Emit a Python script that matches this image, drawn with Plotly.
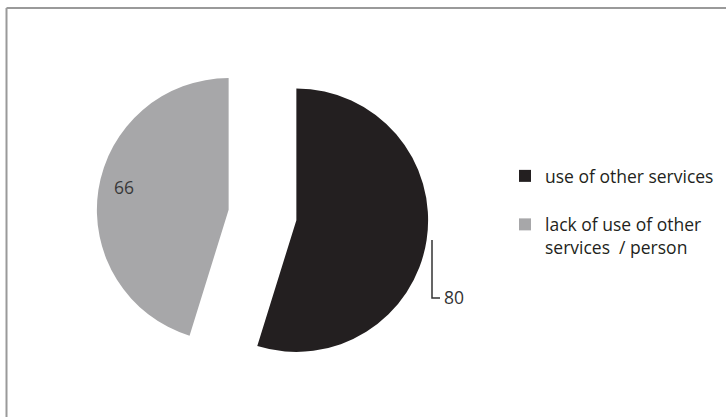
import plotly.graph_objects as go

labels = ["use of other services", "lack of use of other<br>services  / person"]
legend_labels = ["use of other services<br> ", "lack of use of other<br>services  / person"]
values = [80, 66]
colors = ["#231f20", "#a7a7a9"]
pulls = [0.26, 0.26]

W, H = 726, 417

fig = go.Figure()
fig.add_trace(go.Pie(
    labels=legend_labels,
    values=values,
    sort=False,
    direction="clockwise",
    rotation=0,
    pull=pulls,
    marker=dict(colors=colors, line=dict(width=0)),
    textinfo="none",
    domain=dict(x=[96.5 / W, 428.5 / W], y=[1 - 381 / H, 1 - 49 / H]),
    hoverinfo="label+value",
))

# slice value labels
fig.add_annotation(
    x=124 / W, y=1 - 187 / H, xref="paper", yref="paper",
    text=str(values[1]), showarrow=False, xanchor="center", yanchor="middle",
    font=dict(family="Open Sans", size=17.5, color="#3a3a3a"),
)
fig.add_annotation(
    x=442 / W, y=1 - 297 / H, xref="paper", yref="paper",
    text=str(values[0]), showarrow=False, xanchor="left", yanchor="middle",
    font=dict(family="Open Sans", size=17.5, color="#333333"),
)
# L-shaped leader line for the outside label
fig.add_shape(
    type="path", xref="paper", yref="paper",
    path=f"M {432/W} {1-240/H} L {432/W} {1-298/H} L {440/W} {1-298/H}",
    line=dict(color="#333333", width=1.5),
)

# frame (top and left edges)
fig.add_shape(type="line", xref="paper", yref="paper",
              x0=6.5 / W, y0=1 - 8 / H, x1=1, y1=1 - 8 / H,
              line=dict(color="#9a9a9a", width=2))
fig.add_shape(type="line", xref="paper", yref="paper",
              x0=6.5 / W, y0=0, x1=6.5 / W, y1=1 - 8 / H,
              line=dict(color="#9a9a9a", width=2))

fig.update_layout(
    width=W, height=H,
    margin=dict(l=0, r=0, t=0, b=0),
    paper_bgcolor="white",
    plot_bgcolor="white",
    showlegend=True,
    legend=dict(
        x=505 / W, y=1 - 158 / H, xanchor="left", yanchor="top",
        font=dict(family="Open Sans", size=17.5, color="#231f20"),
        valign="top",
        bgcolor="rgba(0,0,0,0)",
    ),
)

fig.write_html("out.html")
